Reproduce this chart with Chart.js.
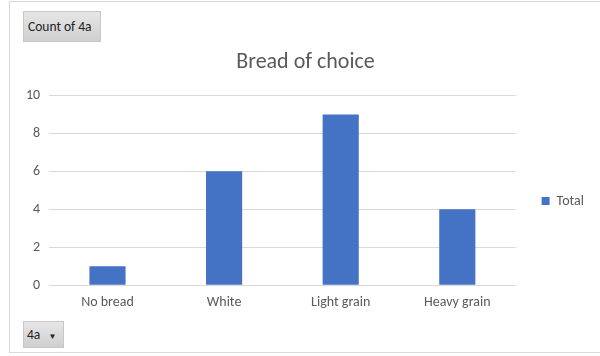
<!DOCTYPE html>
<html><head><meta charset="utf-8">
<script src="https://cdn.jsdelivr.net/npm/chart.js@4"></script>
<style>
html,body{margin:0;padding:0;background:#fff;}
#wrap{position:relative;width:600px;height:356px;overflow:hidden;font-family:Carlito,Lato,"Liberation Sans",sans-serif;}
#frame{position:absolute;left:9px;top:1px;width:600px;height:352px;border-left:1px solid #d9d9d9;border-top:1px solid #d9d9d9;border-bottom:1px solid #d9d9d9;box-sizing:border-box;}
#c{position:absolute;left:0;top:0;}
.btn{position:absolute;background:linear-gradient(#e6e6e6,#cfcfcf);border:1px solid #c8c8c8;color:#222;font-size:13.5px;box-sizing:border-box;}
#b1{left:23px;top:11px;width:78px;height:31px;padding-left:4px;line-height:29px;}
#b2{left:23px;top:321px;width:41px;height:27px;padding-left:3px;line-height:25px;}
</style></head>
<body><div id="wrap">
<div id="frame"></div>
<canvas id="c" width="600" height="356"></canvas>
<div class="btn" id="b1">Count of 4a</div>
<div class="btn" id="b2">4a <span style="font-size:8px;margin-left:5px">&#9660;</span></div>
</div>
<script>
const categories = ["No bread", "White", "Light grain", "Heavy grain"];
const totals = [1, 6, 9, 4];
const seriesName = "Total";
const chartTitle = "Bread of choice";
const FONT = 'Carlito, Lato, "Liberation Sans", sans-serif';
new Chart(document.getElementById('c'), {
  type: 'bar',
  data: { labels: categories, datasets: [{ label: seriesName, data: totals, backgroundColor: '#4472c4', barPercentage: 0.62, categoryPercentage: 0.5 }] },
  options: {
    responsive: false, animation: false,
    layout: { padding: { top: 46, bottom: 0, left: 17, right: 6 } },
    plugins: {
      title: { display: true, text: chartTitle, color: '#595959', font: { family: FONT, size: 22, weight: 'normal' }, padding: { top: 3, bottom: 20 } },
      legend: { position: 'right', labels: { boxWidth: 8, boxHeight: 8, color: '#595959', font: { family: FONT, size: 14 }, padding: 26 } },
      tooltip: { enabled: false }
    },
    scales: {
      x: { grid: { display: false, drawTicks: false }, border: { display: false },
           ticks: { color: '#595959', font: { family: FONT, size: 14 }, padding: 9 },
           title: { display: true, text: ' ', font: { size: 10 }, padding: { top: 0, bottom: 24 } } },
      y: { min: 0, max: 10, ticks: { stepSize: 2, color: '#595959', font: { family: FONT, size: 14 }, padding: 9 }, grid: { color: '#d9d9d9', drawTicks: false }, border: { display: false } }
    }
  }
});
</script></body></html>
